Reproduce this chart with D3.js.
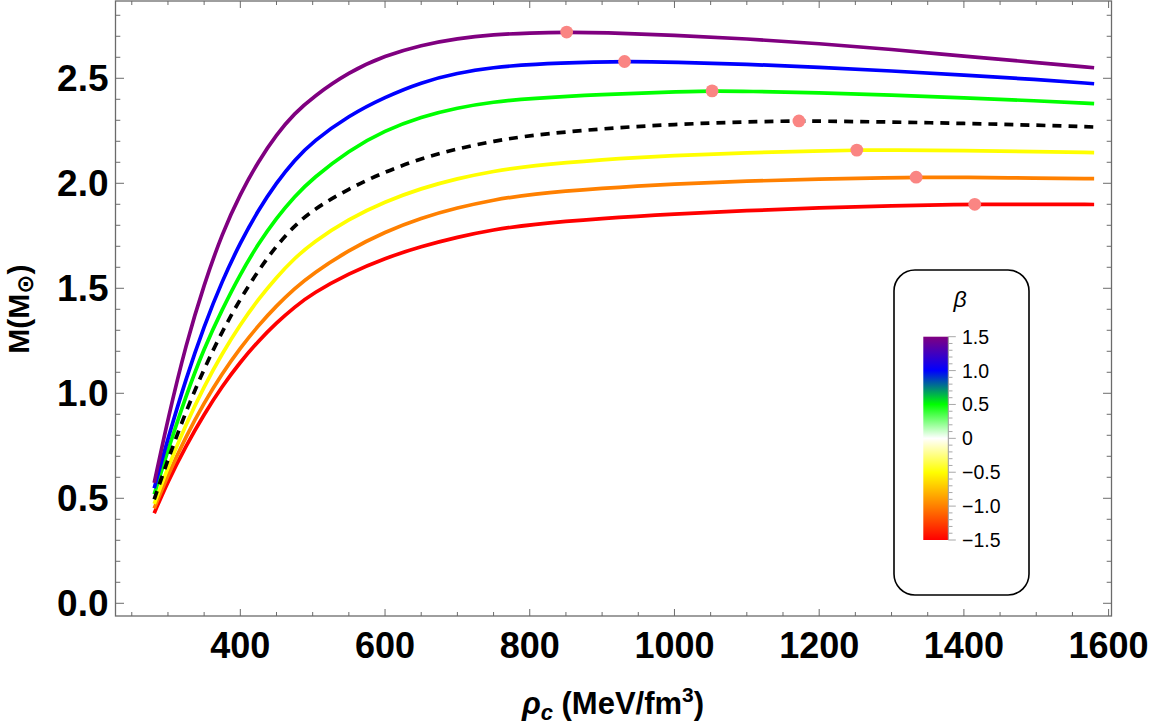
<!DOCTYPE html>
<html>
<head>
<meta charset="utf-8">
<script src="https://cdn.jsdelivr.net/npm/d3@7"></script>
<style>
  html, body { margin: 0; padding: 0; background: #fff; }
  svg { display: block; }
  text { font-family: "Liberation Sans", Arial, sans-serif; }
</style>
</head>
<body>
<svg id="chart" width="1152" height="723"></svg>
<script>
// ---------- data ----------
const rhoGrid = [281, 300, 325, 350, 375, 400, 425, 450, 475, 500, 550, 600, 650, 700, 750, 800, 900, 1000, 1100, 1200, 1300, 1400, 1500, 1580];

const betaLabels = ["1.5", "1.0", "0.5", "0", "-0.5", "-1.0", "-1.5"];
const seriesColors = ["#800080", "#0000ff", "#00ff00", "#000000", "#ffff00", "#ff8000", "#ff0000"];

const massBeta15  = [0.573, 0.880, 1.235, 1.520, 1.762, 1.950, 2.105, 2.233, 2.333, 2.410, 2.530, 2.608, 2.658, 2.690, 2.708, 2.716, 2.718, 2.705, 2.688, 2.665, 2.638, 2.605, 2.575, 2.550];
const massBeta10  = [0.548, 0.786, 1.071, 1.321, 1.536, 1.718, 1.873, 2.003, 2.111, 2.198, 2.323, 2.411, 2.481, 2.526, 2.552, 2.567, 2.578, 2.577, 2.567, 2.553, 2.535, 2.515, 2.495, 2.474];
const massBeta05  = [0.519, 0.730, 0.990, 1.215, 1.400, 1.568, 1.713, 1.835, 1.938, 2.023, 2.157, 2.252, 2.317, 2.360, 2.388, 2.404, 2.424, 2.435, 2.438, 2.431, 2.420, 2.407, 2.393, 2.379];
const massBeta0   = [0.495, 0.685, 0.915, 1.118, 1.295, 1.450, 1.585, 1.703, 1.798, 1.873, 1.975, 2.055, 2.118, 2.165, 2.201, 2.228, 2.261, 2.281, 2.293, 2.296, 2.292, 2.285, 2.277, 2.268];
const massBetaM05 = [0.473, 0.648, 0.853, 1.033, 1.190, 1.328, 1.448, 1.553, 1.643, 1.718, 1.831, 1.913, 1.976, 2.023, 2.058, 2.083, 2.113, 2.133, 2.146, 2.154, 2.158, 2.156, 2.151, 2.146];
const massBetaM10 = [0.452, 0.611, 0.795, 0.955, 1.095, 1.216, 1.323, 1.417, 1.499, 1.570, 1.682, 1.769, 1.835, 1.884, 1.921, 1.948, 1.977, 1.997, 2.011, 2.020, 2.027, 2.028, 2.025, 2.022];
const massBetaM15 = [0.429, 0.581, 0.751, 0.901, 1.034, 1.149, 1.249, 1.336, 1.411, 1.476, 1.571, 1.644, 1.699, 1.744, 1.779, 1.804, 1.833, 1.854, 1.870, 1.883, 1.893, 1.8995, 1.8998, 1.899];

const peakRho  = [851, 931, 1052, 1172, 1252, 1334, 1415];
const peakMass = [2.720, 2.580, 2.440, 2.297, 2.158, 2.029, 1.900];

const xMajorTicks = [400, 600, 800, 1000, 1200, 1400, 1600];
const xMinorTicks = d3.range(250, 1601, 50);
const yMajorTicks = [0.0, 0.5, 1.0, 1.5, 2.0, 2.5];
const yMinorTicks = d3.range(0, 29).map(i => i / 10);

const barTickLabels = ["1.5", "1.0", "0.5", "0", "\u22120.5", "\u22121.0", "\u22121.5"];
const barTickValues = [1.5, 1.0, 0.5, 0, -0.5, -1.0, -1.5];
const barMinorValues = d3.range(-15, 16).map(i => i / 10);
const barStopValues = [-1.5, -1.0, -0.5, 0, 0.5, 1.0, 1.5];
const barStopColors = ["#ff0000", "#ff8000", "#ffff00", "#ffffff", "#00ff00", "#0000ff", "#800080"];

const massSeries = [massBeta15, massBeta10, massBeta05, massBeta0, massBetaM05, massBetaM10, massBetaM15];

// ---------- layout ----------
const svg = d3.select("#chart");
const plot = { left: 115.5, right: 1111.5, top: 1, bottom: 616 };
const x = d3.scaleLinear().domain([227.5, 1604]).range([plot.left, plot.right]);
const y = d3.scaleLinear().domain([-0.0605, 2.868]).range([plot.bottom, plot.top]);
const frameColor = "#6b6b6b";

const defs = svg.append("defs");
defs.append("clipPath").attr("id", "clip")
  .append("rect").attr("x", plot.left).attr("y", plot.top)
  .attr("width", plot.right - plot.left).attr("height", plot.bottom - plot.top);

// ---------- curves ----------
const line = d3.line().x(d => x(d[0])).y(d => y(d[1])).curve(d3.curveBasis);
const curves = svg.append("g").attr("clip-path", "url(#clip)");
const drawOrder = [6, 5, 4, 2, 1, 0, 3];
drawOrder.forEach(i => {
  const pts = rhoGrid.map((r, k) => [r, massSeries[i][k]]);
  pts.push([peakRho[i], peakMass[i]]);
  pts.sort((a, b) => a[0] - b[0]);
  const p = curves.append("path").datum(pts)
    .attr("d", line)
    .attr("fill", "none")
    .attr("stroke", seriesColors[i])
    .attr("stroke-width", 3.7)
    .attr("stroke-linejoin", "round");
  if (i === 3) p.attr("stroke-dasharray", "9,7");
});

// peak markers
curves.selectAll("circle.peak").data(peakRho.map((r, i) => [r, peakMass[i]]))
  .enter().append("circle")
  .attr("cx", d => x(d[0])).attr("cy", d => y(d[1])).attr("r", 6.4)
  .attr("fill", "#fa8583");

// ---------- frame & ticks ----------
const axes = svg.append("g");
axes.append("rect")
  .attr("x", plot.left).attr("y", plot.top)
  .attr("width", plot.right - plot.left).attr("height", plot.bottom - plot.top)
  .attr("fill", "none").attr("stroke", frameColor).attr("stroke-width", 1.3);

const xMajLen = 7, xMinLen = 4, yMajLen = 8.5, yMinLen = 4.8;
xMinorTicks.forEach(v => {
  const isMaj = xMajorTicks.includes(v);
  const len = isMaj ? xMajLen : xMinLen;
  const px = x(v);
  axes.append("line").attr("x1", px).attr("x2", px).attr("y1", plot.bottom).attr("y2", plot.bottom - len)
    .attr("stroke", frameColor).attr("stroke-width", 1);
  axes.append("line").attr("x1", px).attr("x2", px).attr("y1", plot.top).attr("y2", plot.top + len)
    .attr("stroke", frameColor).attr("stroke-width", 1);
});
yMinorTicks.forEach(v => {
  const isMaj = yMajorTicks.some(t => Math.abs(t - v) < 1e-9);
  const len = isMaj ? yMajLen : yMinLen;
  const py = y(v);
  axes.append("line").attr("x1", plot.left).attr("x2", plot.left + len).attr("y1", py).attr("y2", py)
    .attr("stroke", frameColor).attr("stroke-width", 1);
  axes.append("line").attr("x1", plot.right).attr("x2", plot.right - len).attr("y1", py).attr("y2", py)
    .attr("stroke", frameColor).attr("stroke-width", 1);
});

// tick labels
axes.selectAll("text.xt").data(xMajorTicks).enter().append("text")
  .attr("x", d => x(d)).attr("y", 658)
  .attr("text-anchor", "middle")
  .attr("font-size", 36).attr("font-weight", "bold").attr("fill", "#000")
  .text(d => d);
axes.selectAll("text.yt").data(yMajorTicks).enter().append("text")
  .attr("x", 108.5).attr("y", d => y(d) + 13)
  .attr("text-anchor", "end")
  .attr("font-size", 37).attr("font-weight", "bold").attr("fill", "#000")
  .text(d => d3.format(".1f")(d));

// axis titles
const xt = svg.append("text")
  .attr("x", 613).attr("y", 713.5).attr("text-anchor", "middle")
  .attr("font-size", 31).attr("font-weight", "bold").attr("fill", "#000");
xt.append("tspan").attr("font-style", "italic").text("\u03C1");
xt.append("tspan").attr("font-style", "italic").attr("font-size", 22).attr("dy", 6).text("c");
xt.append("tspan").attr("dy", -6).text(" (MeV/fm");
xt.append("tspan").attr("font-size", 21).attr("dy", -12).text("3");
xt.append("tspan").attr("dy", 12).text(")");

const yt = svg.append("text")
  .attr("transform", "translate(29,309) rotate(-90)")
  .attr("text-anchor", "middle")
  .attr("font-size", 30).attr("font-weight", "bold").attr("fill", "#000");
yt.append("tspan").text("M(M");
yt.append("tspan").attr("font-family", "DejaVu Sans").attr("font-size", 23).attr("dy", 4).text("\u2299");
yt.append("tspan").attr("dy", -4).text(")");

// ---------- legend ----------
const leg = svg.append("g");
leg.append("rect").attr("x", 894).attr("y", 270).attr("width", 135).attr("height", 325)
  .attr("rx", 21).attr("ry", 21)
  .attr("fill", "#fff").attr("stroke", "#000").attr("stroke-width", 1.6);
leg.append("text").attr("x", 960).attr("y", 307).attr("text-anchor", "middle")
  .attr("font-size", 23).attr("font-style", "italic").attr("fill", "#000").text("\u03B2");

const bar = { x: 923.3, w: 25, top: 336.7, bottom: 540 };
const by = d3.scaleLinear().domain([-1.5, 1.5]).range([bar.bottom, bar.top]);
const grad = defs.append("linearGradient").attr("id", "betaGrad")
  .attr("x1", 0).attr("y1", 1).attr("x2", 0).attr("y2", 0);
barStopValues.forEach((v, i) => {
  grad.append("stop").attr("offset", (v + 1.5) / 3).attr("stop-color", barStopColors[i]);
});
leg.append("rect").attr("x", bar.x).attr("y", bar.top).attr("width", bar.w).attr("height", bar.bottom - bar.top)
  .attr("fill", "url(#betaGrad)");
leg.append("line").attr("x1", bar.x + bar.w).attr("x2", bar.x + bar.w).attr("y1", bar.top).attr("y2", bar.bottom)
  .attr("stroke", "#9a9a9a").attr("stroke-width", 1);
barMinorValues.forEach(v => {
  const isMaj = barTickValues.some(t => Math.abs(t - v) < 1e-9);
  leg.append("line").attr("x1", bar.x + bar.w).attr("x2", bar.x + bar.w + (isMaj ? 7.5 : 4.2))
    .attr("y1", by(v)).attr("y2", by(v))
    .attr("stroke", "#a8a8a8").attr("stroke-width", 1);
});
barTickValues.forEach((v, i) => {
  leg.append("text").attr("x", 962).attr("y", by(v) + 7)
    .attr("font-size", 19.5).attr("fill", "#000").text(barTickLabels[i]);
});
</script>
</body>
</html>
